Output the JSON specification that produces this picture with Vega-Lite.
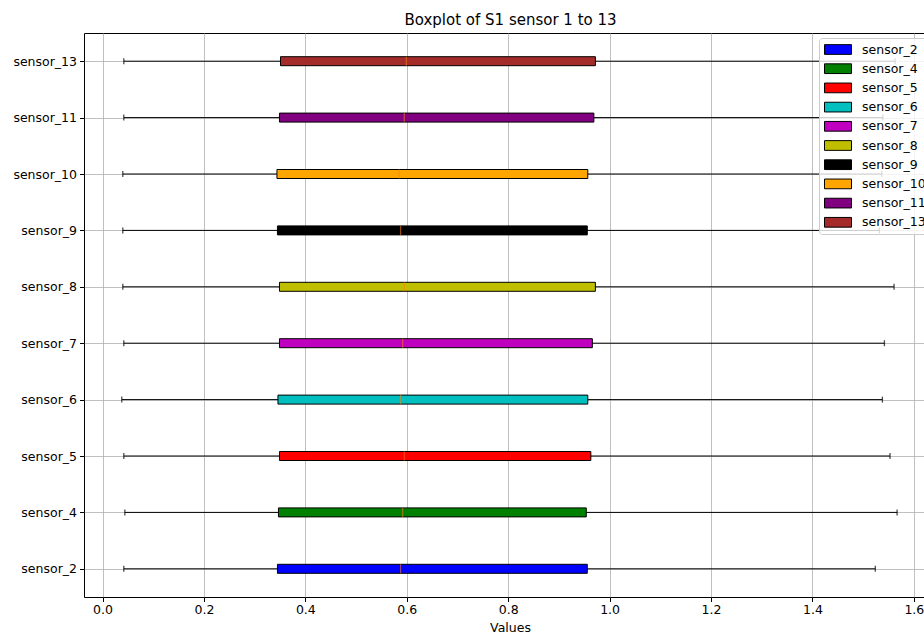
{
  "$schema": "https://vega.github.io/schema/vega-lite/v6.json",
  "autosize": {"type": "none"},
  "padding": {"left": 84, "top": 33, "right": 0, "bottom": 40},
  "width": 841,
  "height": 564,
  "title": {"text": "Boxplot of S1 sensor 1 to 13", "fontSize": 15, "fontWeight": "normal", "font": "DejaVu Sans", "color": "black", "offset": 5, "dx": 6},
  "data": {"values": [
    {"sensor": "sensor_2", "low": 0.042, "q1": 0.345, "median": 0.588, "q3": 0.956, "high": 1.524},
    {"sensor": "sensor_4", "low": 0.044, "q1": 0.347, "median": 0.592, "q3": 0.954, "high": 1.567},
    {"sensor": "sensor_5", "low": 0.042, "q1": 0.349, "median": 0.595, "q3": 0.963, "high": 1.553},
    {"sensor": "sensor_6", "low": 0.038, "q1": 0.346, "median": 0.588, "q3": 0.957, "high": 1.538},
    {"sensor": "sensor_7", "low": 0.042, "q1": 0.349, "median": 0.592, "q3": 0.966, "high": 1.542},
    {"sensor": "sensor_8", "low": 0.040, "q1": 0.349, "median": 0.595, "q3": 0.972, "high": 1.561},
    {"sensor": "sensor_9", "low": 0.040, "q1": 0.345, "median": 0.588, "q3": 0.956, "high": 1.532},
    {"sensor": "sensor_10", "low": 0.040, "q1": 0.344, "median": 0.585, "q3": 0.957, "high": 1.537},
    {"sensor": "sensor_11", "low": 0.042, "q1": 0.349, "median": 0.595, "q3": 0.969, "high": 1.539},
    {"sensor": "sensor_13", "low": 0.042, "q1": 0.351, "median": 0.599, "q3": 0.972, "high": 1.563}
  ]},
  "encoding": {
    "y": {
      "field": "sensor", "type": "nominal",
      "sort": ["sensor_13", "sensor_11", "sensor_10", "sensor_9", "sensor_8", "sensor_7", "sensor_6", "sensor_5", "sensor_4", "sensor_2"],
      "scale": {"type": "point", "padding": 0.5},
      "axis": {"title": null, "grid": true, "labelPadding": 3}
    }
  },
  "layer": [
    {
      "mark": {"type": "rule", "color": "black", "strokeWidth": 1},
      "encoding": {
        "x": {"field": "low", "type": "quantitative",
          "scale": {"domain": [-0.0365, 1.622], "nice": false, "zero": false},
          "axis": {"values": [0, 0.2, 0.4, 0.6, 0.8, 1.0, 1.2, 1.4, 1.6], "format": ".1f", "title": "Values", "titleX": 426, "labelPadding": 2, "titlePadding": 5, "labelFlush": false}},
        "x2": {"field": "high"}
      }
    },
    {
      "mark": {"type": "tick", "color": "black", "size": 6, "thickness": 1.3, "orient": "vertical"},
      "encoding": {"x": {"field": "low", "type": "quantitative"}}
    },
    {
      "mark": {"type": "tick", "color": "black", "size": 6, "thickness": 1.3, "orient": "vertical"},
      "encoding": {"x": {"field": "high", "type": "quantitative"}}
    },
    {
      "mark": {"type": "bar", "size": 9, "stroke": "black", "strokeWidth": 1, "opacity": 1},
      "encoding": {
        "x": {"field": "q1", "type": "quantitative"},
        "x2": {"field": "q3"},
        "fill": {
          "field": "sensor", "type": "nominal",
          "scale": {
            "domain": ["sensor_2", "sensor_4", "sensor_5", "sensor_6", "sensor_7", "sensor_8", "sensor_9", "sensor_10", "sensor_11", "sensor_13"],
            "range": ["#0000ff", "#008000", "#ff0000", "#00bfbf", "#bf00bf", "#bfbf00", "#000000", "#ffa500", "#800080", "#a52a2a"]
          },
          "legend": {
            "title": null, "orient": "none", "legendX": 735, "legendY": 5,
            "symbolType": "M-1,-0.36H1V0.36H-1Z", "symbolSize": 729,
            "symbolStrokeColor": "black", "symbolStrokeWidth": 1, "symbolOpacity": 1,
            "labelFontSize": 12.5, "labelFont": "DejaVu Sans", "labelColor": "black", "labelOffset": 10,
            "clipHeight": 13, "rowPadding": 6.2, "padding": 5,
            "fillColor": "rgba(255,255,255,0.8)", "strokeColor": "#cccccc", "cornerRadius": 3
          }
        }
      }
    },
    {
      "mark": {"type": "tick", "color": "#ff7f0e", "size": 9, "thickness": 1, "orient": "vertical"},
      "encoding": {"x": {"field": "median", "type": "quantitative"}}
    }
  ],
  "config": {
    "font": "DejaVu Sans",
    "view": {"stroke": "black", "strokeWidth": 1},
    "axis": {
      "grid": true, "gridColor": "#b0b0b0", "gridWidth": 0.8, "domain": false,
      "tickColor": "black", "tickSize": 4.5, "labelColor": "black", "labelFontSize": 12.5,
      "labelFont": "DejaVu Sans", "titleFont": "DejaVu Sans", "titleFontSize": 12.5,
      "titleFontWeight": "normal", "titleColor": "black"
    }
  }
}
